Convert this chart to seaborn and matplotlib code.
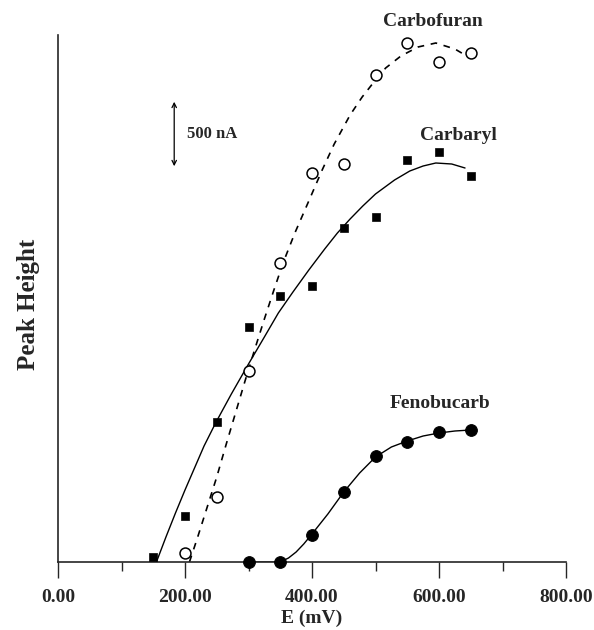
import numpy as np
import pandas as pd
import matplotlib
matplotlib.use("Agg")
import matplotlib.pyplot as plt
import seaborn as sns

# Measured points (peak height in arbitrary scan units)
carbofuran_e = [200, 250, 300, 350, 400, 450, 500, 550, 600, 650]
carbofuran_h = [9, 65, 191, 299, 389, 398, 487, 519, 500, 509]

carbaryl_e = [150, 200, 250, 300, 350, 400, 450, 500, 550, 600, 650]
carbaryl_h = [5, 46, 140, 235, 266, 276, 334, 345, 402, 410, 386]

fenobucarb_e = [300, 350, 400, 450, 500, 550, 600, 650]
fenobucarb_h = [0, 0, 27, 70, 106, 120, 130, 132]

# Fitted curves as drawn in the figure
carbofuran_fit_e = [207, 220, 235, 250, 265, 280, 295, 310, 325, 340, 355, 373,
                    397, 416, 435, 460, 479, 500, 516, 540, 567, 595, 625, 641]
carbofuran_fit_h = [0, 25, 55, 85, 118, 150, 182, 213, 243, 272, 300, 329,
                    364, 392, 418, 447, 465, 482, 494, 506, 515, 519, 513, 507]

carbaryl_fit_e = [155, 170, 185, 200, 215, 230, 249, 273, 300, 325, 347, 370,
                  395, 420, 440, 460, 480, 500, 530, 554, 575, 595, 620, 641]
carbaryl_fit_h = [0, 25, 49, 72, 94, 116, 140, 168, 198, 225, 249, 270,
                  292, 313, 329, 343, 356, 368, 382, 391, 396, 399, 398, 394]

fenobucarb_fit_e = [300, 350, 363, 375, 387, 400, 425, 450, 475, 500, 525, 550,
                    575, 600, 625, 650]
fenobucarb_fit_h = [0, 0, 4, 10, 18, 28, 48, 70, 89, 105, 115, 121,
                    126, 129, 131, 132]

sns.set_style("ticks")
plt.rcParams['font.family'] = ['Liberation Serif', 'DejaVu Serif']
plt.rcParams['font.weight'] = 'bold'

fig = plt.figure(figsize=(5.94, 6.3), dpi=100)
ax = fig.add_axes([58 / 594, 68 / 630, 508 / 594, 527 / 630])

pts = pd.DataFrame({
    "e": carbofuran_e + carbaryl_e + fenobucarb_e,
    "h": carbofuran_h + carbaryl_h + fenobucarb_h,
    "name": ["Carbofuran"] * len(carbofuran_e) + ["Carbaryl"] * len(carbaryl_e)
            + ["Fenobucarb"] * len(fenobucarb_e),
})

# curves
sns.lineplot(x=carbofuran_fit_e, y=carbofuran_fit_h, ax=ax, color="black",
             lw=1.2, linestyle=(0, (4, 4)), sort=False, estimator=None)
sns.lineplot(x=carbaryl_fit_e, y=carbaryl_fit_h, ax=ax, color="black",
             lw=1.0, sort=False, estimator=None)
sns.lineplot(x=fenobucarb_fit_e, y=fenobucarb_fit_h, ax=ax, color="black",
             lw=1.0, sort=False, estimator=None)

# points
sns.scatterplot(data=pts[pts.name == "Carbofuran"], x="e", y="h", ax=ax,
                marker="o", s=62, facecolor="white", edgecolor="black",
                linewidth=1.1, clip_on=False, zorder=3)
sns.scatterplot(data=pts[pts.name == "Carbaryl"], x="e", y="h", ax=ax,
                marker="s", s=36, color="black", edgecolor="black",
                clip_on=False, zorder=3)
sns.scatterplot(data=pts[pts.name == "Fenobucarb"], x="e", y="h", ax=ax,
                marker="o", s=72, color="black", edgecolor="black",
                clip_on=False, zorder=3)

ax.set_xlim(0, 800)
ax.set_ylim(0, 527)
ax.set_xticks([0, 200, 400, 600, 800])
ax.set_xticklabels([f"{v:.2f}" for v in [0, 200, 400, 600, 800]],
                   fontsize=14, fontweight="bold")
ax.set_xticks([100, 300, 500, 700], minor=True)
ax.set_yticks([])
ax.tick_params(axis="x", which="major", length=11.5, width=1, pad=8)
ax.tick_params(axis="x", which="minor", length=6.5, width=1)
sns.despine(ax=ax)
for s in ["left", "bottom"]:
    ax.spines[s].set_linewidth(1.2)

ax.set_xlabel("E (mV)", fontsize=14, fontweight="bold", labelpad=2.5)
ax.set_ylabel("Peak Height", fontsize=18, fontweight="bold")
ax.yaxis.set_label_coords(-18 / 508, (562 - 304) / 527)

# series labels
ax.text(590, 541, "Carbofuran", fontsize=14, fontweight="bold",
        ha="center", va="center", clip_on=False)
ax.text(631, 427, "Carbaryl", fontsize=14, fontweight="bold",
        ha="center", va="center")
ax.text(601, 159, "Fenobucarb", fontsize=14, fontweight="bold",
        ha="center", va="center")

# 500 nA scale bar
ax.annotate("", xy=(183, 463), xytext=(183, 393),
            arrowprops=dict(arrowstyle="<->", color="black", lw=0.9,
                            mutation_scale=8))
ax.text(203, 428, "500 nA", fontsize=12, fontweight="bold",
        ha="left", va="center")

fig.savefig("out.png", dpi=100)
